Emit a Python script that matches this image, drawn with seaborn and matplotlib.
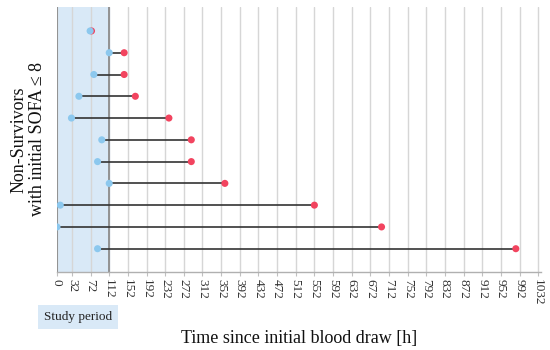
import matplotlib
matplotlib.use("Agg")
import matplotlib.pyplot as plt
import seaborn as sns
import pandas as pd

# hours since initial blood draw, one row per non-survivor (top to bottom)
patients = list(range(11))
sample_time = [71, 112, 79, 47, 31, 96, 87, 112, 7, 0, 87]
death_time = [74, 144, 144, 168, 240, 288, 288, 360, 552, 696, 984]
xticks = [0] + list(range(32, 1033, 40))
study_end = 112

sns.set_theme(style="white")
plt.rcParams["font.family"] = ["Liberation Serif", "DejaVu Serif"]

df = pd.DataFrame({"patient": patients, "sample": sample_time, "death": death_time})

fig = plt.figure(figsize=(5.5, 3.5), dpi=100)
ax = fig.add_axes([57 / 550, 1 - 272 / 350, 484 / 550, 265 / 350])

# study period shading
ax.axvspan(0, study_end, color="#d9e9f7", zorder=0)
for xt in xticks:
    ax.axvline(xt, color="#d6d6d6", lw=1.0, zorder=0.5)
ax.axvline(0, color="#8c8c8c", lw=1.3, zorder=1)
ax.axvline(study_end, color="#8c8c8c", lw=1.3, zorder=1)

ax.hlines(df["patient"], df["sample"], df["death"], color="#333333", lw=1.2, zorder=2)
sns.scatterplot(data=df, x="death", y="patient", color="#f2445f", s=26,
                edgecolor="none", zorder=3, ax=ax)
sns.scatterplot(data=df, x="sample", y="patient", color="#8cc8ee", s=26,
                edgecolor="none", zorder=4, ax=ax)

ax.set_xlim(0, 1038)
ax.set_ylim(11.07, -1.1)
ax.set_yticks([])
ax.set_xticks(xticks)
ax.set_xticklabels([str(x) for x in xticks], rotation=-90, fontsize=9.5, color="#333333")
ax.tick_params(axis="x", length=3, width=0.8, color="#c0c0c0", pad=2, bottom=True)

for side in ["top", "right"]:
    ax.spines[side].set_visible(False)
ax.spines["left"].set_visible(False)
ax.spines["bottom"].set_color("#b0b0b0")
ax.spines["bottom"].set_linewidth(1.0)

ax.set_xlabel("Time since initial blood draw [h]", fontsize=13, labelpad=18, color="#111111")
ax.set_ylabel("Non-Survivors\nwith initial SOFA \u2264 8", fontsize=13, labelpad=8,
              color="#111111", linespacing=1.1)

fig.text(78 / 550, 1 - 317 / 350, "Study period", fontsize=9.5, ha="center", va="center",
         color="#222222",
         bbox=dict(boxstyle="square,pad=0.45", facecolor="#d9e9f7", edgecolor="none"))

fig.savefig("out.png", dpi=100)
plt.close(fig)
